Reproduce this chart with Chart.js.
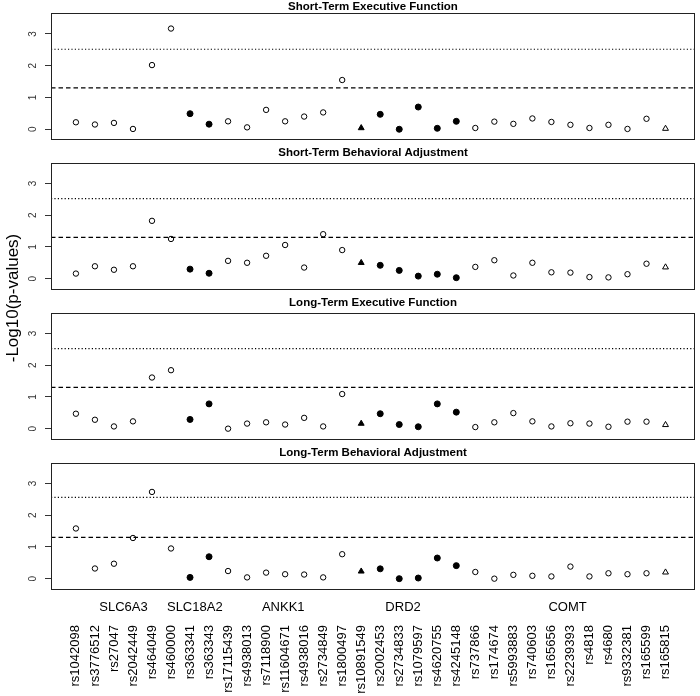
<!DOCTYPE html>
<html><head><meta charset="utf-8">
<script src="https://cdn.jsdelivr.net/npm/chart.js@4.4.1/dist/chart.umd.min.js"></script>
<style>
html,body{margin:0;padding:0;background:#fff;width:700px;height:696px;overflow:hidden;}
canvas{position:absolute;left:0;top:0;}
</style></head><body>
<canvas id="c0" width="700" height="696"></canvas>
<canvas id="c1" width="700" height="696"></canvas>
<canvas id="c2" width="700" height="696"></canvas>
<canvas id="c3" width="700" height="696"></canvas>
<script>
// ---------- data ----------
const snps = ['rs1042098','rs3776512','rs27047','rs2042449','rs464049','rs460000','rs363341','rs363343',
  'rs17115439','rs4938013','rs7118900','rs11604671','rs4938016','rs2734849','rs1800497','rs10891549',
  'rs2002453','rs2734833','rs1079597','rs4620755','rs4245148','rs737866','rs174674','rs5993883',
  'rs740603','rs165656','rs2239393','rs4818','rs4680','rs9332381','rs165599','rs165815'];
const snpMarker = ['open','open','open','open','open','open','filled','filled',
  'open','open','open','open','open','open','open','tri',
  'filled','filled','filled','filled','filled','open','open','open',
  'open','open','open','open','open','open','open','opentri'];
const genes = ['SLC6A3','SLC18A2','ANKK1','DRD2','COMT'];
const genePos = [2.5, 6.25, 10.9, 17.2, 25.85];
const panelTitles = ['Short-Term Executive Function','Short-Term Behavioral Adjustment',
  'Long-Term Executive Function','Long-Term Behavioral Adjustment'];
const stExec = [0.22,0.15,0.2,0.01,2.02,3.17,0.49,0.16,0.25,0.06,0.61,0.25,0.4,0.53,1.55,0.04,
  0.47,0.0,0.7,0.03,0.25,0.04,0.24,0.17,0.34,0.23,0.14,0.04,0.14,0.01,0.33,0.02];
const stBeh = [0.16,0.39,0.28,0.39,1.82,1.25,0.3,0.17,0.56,0.5,0.72,1.06,0.35,1.4,0.9,0.5,
  0.42,0.26,0.08,0.14,0.03,0.37,0.58,0.1,0.5,0.2,0.19,0.05,0.04,0.14,0.47,0.36];
const ltExec = [0.47,0.28,0.07,0.23,1.61,1.84,0.29,0.78,0.0,0.16,0.2,0.13,0.34,0.07,1.09,0.16,
  0.47,0.13,0.06,0.78,0.52,0.05,0.2,0.49,0.23,0.07,0.17,0.16,0.06,0.22,0.22,0.12];
const ltBeh = [1.58,0.32,0.47,1.28,2.73,0.95,0.04,0.69,0.24,0.04,0.19,0.14,0.13,0.04,0.77,0.23,
  0.31,0.0,0.02,0.65,0.41,0.21,0.0,0.12,0.09,0.07,0.38,0.07,0.17,0.14,0.17,0.2];
const dashedLevels = [1.3,1.3,1.3,1.3];
const dottedLevels = [2.52,2.52,2.52,2.56];
const yTicks = [0,1,2,3];
const yTitle = '-Log10(p-values)';

// ---------- layout / style ----------
const series = [stExec, stBeh, ltExec, ltBeh];
const FONT = "'Liberation Sans', Arial, Helvetica, sans-serif";
const W = 700, H = 696;
const plotTops = [13.3, 162.7, 312.7, 462.7];
const plotH = 127.4;
const xMin = -1.31, xMax = 32.55;
const yMin = -0.36, yMax = 3.65;

const decor = {
  id: 'decor',
  afterDraw(chart, args, o) {
    const {ctx, chartArea: a, scales} = chart;
    ctx.save();
    ctx.strokeStyle = '#222'; ctx.lineWidth = 1;
    ctx.strokeRect(Math.round(a.left)+0.5, Math.round(a.top)+0.5,
      Math.round(a.right-a.left)-1, Math.round(a.bottom-a.top)-1);
    ctx.fillStyle = '#000';
    ctx.textAlign = 'center'; ctx.textBaseline = 'middle';
    ctx.font = 'bold 11.5px ' + FONT;
    ctx.fillText(o.title, (a.left+a.right)/2, Math.max(a.top - 10, 6.5));
    ctx.font = '10px ' + FONT;
    ctx.fillStyle = '#333';
    yTicks.forEach(v => {
      const y = scales.y.getPixelForValue(v);
      ctx.save(); ctx.translate(a.left - 18, y); ctx.rotate(-Math.PI/2);
      ctx.fillText(String(v), 0, 0); ctx.restore();
    });
    ctx.fillStyle = '#000';
    if (o.genes) {
      ctx.font = '13px ' + FONT;
      genes.forEach((g, i) => ctx.fillText(g, scales.x.getPixelForValue(genePos[i]), a.bottom + 17));
    }
    if (o.yTitle) {
      ctx.font = '17px ' + FONT;
      ctx.save(); ctx.translate(13, 298); ctx.rotate(-Math.PI/2);
      ctx.fillText(yTitle, 0, 0); ctx.restore();
    }
    ctx.restore();
  }
};

function makeChart(idx) {
  const last = idx === 3;
  const vals = series[idx];
  const top = plotTops[idx];
  const pts = vals.map((v, i) => ({x: i, y: v}));
  const style = snpMarker.map(m => (m === 'tri' || m === 'opentri') ? 'triangle' : 'circle');
  const fill = snpMarker.map(m => (m === 'filled' || m === 'tri') ? '#000' : 'rgba(0,0,0,0)');
  const rad = snpMarker.map(m => m === 'filled' ? 3 : (m === 'tri' || m === 'opentri') ? 3.4 : 2.7);
  new Chart(document.getElementById('c' + idx), {
    type: 'scatter',
    data: {
      datasets: [
        {data: pts, pointStyle: style, backgroundColor: fill, borderColor: '#000',
         pointBorderWidth: 1, pointRadius: rad, showLine: false},
        {data: [{x: xMin, y: dashedLevels[idx]}, {x: xMax, y: dashedLevels[idx]}], showLine: true,
         borderColor: '#000', borderWidth: 1.3, borderDash: [4.5, 3], pointRadius: 0},
        {data: [{x: xMin, y: dottedLevels[idx]}, {x: xMax, y: dottedLevels[idx]}], showLine: true,
         borderColor: '#000', borderWidth: 1.1, borderDash: [1.2, 2.2], pointRadius: 0}
      ]
    },
    options: {
      responsive: false, animation: false, events: [],
      layout: {padding: {top: top, left: 0, right: 1,
        bottom: last ? 0 : H - top - plotH}},
      plugins: {legend: {display: false}, tooltip: {enabled: false},
        decor: {title: panelTitles[idx], genes: last, yTitle: idx === 0}},
      scales: {
        x: {type: 'linear', min: xMin, max: xMax, display: last,
          afterBuildTicks: s => { s.ticks = snps.map((_, i) => ({value: i})); },
          afterFit: s => {
            if (last) s.height = H - top - plotH;
            s.paddingLeft = 0; s.paddingRight = 0;
          },
          grid: {display: false, drawTicks: false},
          border: {display: false},
          ticks: {autoSkip: false, minRotation: 90, maxRotation: 90, padding: 35,
            color: '#000', font: {family: FONT, size: 13},
            callback: v => snps[v] !== undefined ? snps[v] : ''}
        },
        y: {type: 'linear', min: yMin, max: yMax,
          afterBuildTicks: s => { s.ticks = yTicks.map(v => ({value: v})); },
          afterFit: s => { s.width = 51; s.paddingTop = 0; s.paddingBottom = 0; },
          grid: {drawOnChartArea: false, drawTicks: true, tickLength: 6, color: '#333'},
          border: {display: false},
          ticks: {display: false}
        }
      }
    },
    plugins: [decor]
  });
}
[0,1,2,3].forEach(makeChart);
</script>
</body></html>
